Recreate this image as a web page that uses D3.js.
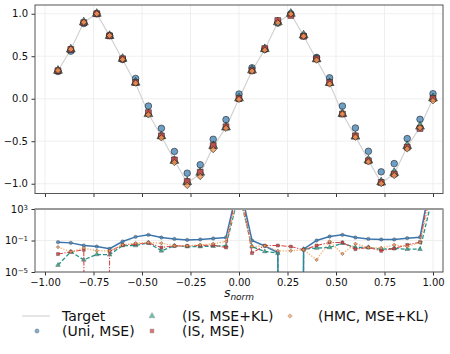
<!DOCTYPE html>
<html>
<head>
<meta charset="utf-8">
<script src="https://cdn.jsdelivr.net/npm/d3@7"></script>
<style>
  body { margin: 0; background: #fff; }
  svg { display: block; font-family: "DejaVu Sans", sans-serif; }
</style>
</head>
<body>
<div id="chart"></div>
<script>
// normalised positions of the samples
const sNorm = [-0.933, -0.867, -0.8, -0.733, -0.667, -0.6, -0.533, -0.467, -0.4, -0.333,
  -0.267, -0.2, -0.133, -0.067, 0, 0.067, 0.133, 0.2, 0.267, 0.333,
  0.4, 0.467, 0.533, 0.6, 0.667, 0.733, 0.8, 0.867, 0.933, 1.0];

// top panel: target and predictions
const target = [0.33, 0.58, 0.90, 1.00, 0.74, 0.46, 0.18, -0.175, -0.445, -0.725,
  -0.99, -0.885, -0.565, -0.335, 0.0, 0.33, 0.58, 0.90, 1.00, 0.74,
  0.46, 0.18, -0.175, -0.445, -0.725, -0.99, -0.885, -0.565, -0.335, 0.0];
const predUni = [0.32, 0.56, 0.885, 1.0, 0.744, 0.462, 0.239, -0.086, -0.348, -0.62,
  -0.876, -0.776, -0.477, -0.246, 0.055, 0.364, 0.58, 0.89, 1.0, 0.74,
  0.486, 0.246, -0.086, -0.344, -0.618, -0.86, -0.763, -0.469, -0.242, 0.059];
const predIsKl = [0.33, 0.58, 0.9, 1.0, 0.74, 0.47, 0.19, -0.18, -0.44, -0.73,
  -0.98, -0.87, -0.555, -0.337, 0.005, 0.335, 0.585, 0.9, 1.0, 0.745,
  0.465, 0.185, -0.178, -0.445, -0.725, -0.983, -0.872, -0.556, -0.327, 0.005];
const predIsMse = [0.33, 0.58, 0.895, 1.0, 0.74, 0.47, 0.19, -0.164, -0.437, -0.72,
  -0.975, -0.864, -0.551, -0.33, 0.002, 0.33, 0.59, 0.92, 0.98, 0.735,
  0.47, 0.19, -0.18, -0.437, -0.73, -0.985, -0.885, -0.57, -0.35, 0.002];
const predHmc = [0.333, 0.583, 0.90, 1.0, 0.744, 0.462, 0.184, -0.19, -0.46, -0.75,
  -1.02, -0.915, -0.598, -0.348, -0.008, 0.325, 0.572, 0.892, 0.998, 0.736,
  0.454, 0.173, -0.18, -0.453, -0.743, -0.998, -0.903, -0.59, -0.34, -0.023];

// bottom panel: relative errors (0 = exact match)
const errUni = [6.2e-2, 5e-2, 2.3e-2, 1.7e-2, 8.9e-3, 7.4e-2, 2.9e-1, 5.2e-1, 2.4e-1, 1.6e-1,
  1.2e-1, 1.35e-1, 1.8e-1, 2.4e-1, 3e6, 1e-1, 2e-2, 3e-3, 0, 7.9e-3,
  1e-1, 3.2e-1, 5.2e-1, 2.4e-1, 1.6e-1, 1.35e-1, 1.35e-1, 2e-1, 2.6e-1, 1e8];
const errIsKl = [7.6e-5, 3.7e-3, 3.5e-4, 1.7e-3, 1.55e-3, 2.3e-2, 2.3e-2, 5e-2, 4.9e-3, 2.1e-2,
  1.7e-2, 1.7e-2, 1.9e-2, 2.1e-2, 1e5, 1.7e-2, 4e-3, 2.5e-3, 0, 7.9e-3,
  1.1e-2, 1.3e-2, 4.6e-2, 1.3e-2, 1.3e-2, 7.9e-3, 9.8e-3, 7.9e-3, 7.9e-3, 6e4];
const errIsMse = [1.9e-3, 3.7e-3, 6.6e-3, 0, 4.1e-3, 2.8e-2, 3.5e-2, 5e-2, 1.3e-2, 2.1e-2,
  2.1e-2, 2.3e-2, 2.6e-2, 1.3e-2, 1e7, 2.5e-3, 2.3e-2, 2.3e-2, 1.7e-2, 6.6e-3,
  2.3e-2, 5.6e-2, 5.6e-2, 7.9e-3, 1.3e-2, 4.9e-3, 9.8e-3, 2.8e-2, 6.2e-2, 2.5e7];
const errHmc = [1.45e-2, 3.7e-3, 1.1e-2, 5e-3, 4.9e-3, 2.8e-2, 4.6e-2, 5.6e-2, 4.6e-2, 2.1e-2,
  2.1e-2, 2.8e-2, 3.8e-2, 7.4e-2, 1e5, 1.7e-2, 2.1e-2, 4.9e-3, 4.9e-3, 6.6e-3,
  3.5e-4, 7.4e-2, 2e-3, 3.8e-2, 1.3e-2, 1.1e-2, 2.8e-2, 1.7e-2, 5.6e-2, 5e5];

const xTicks = [-1, -0.75, -0.5, -0.25, 0, 0.25, 0.5, 0.75, 1];
const yTicks = [-1, -0.5, 0, 0.5, 1];
const errTicks = [1e-5, 1e-1, 1e3];
const errTickExp = ["\u22125", "\u22121", "3"];

const series = [
  { name: "(Uni, MSE)", pred: predUni, err: errUni, color: "#4a87b8", line: "#3b76af", symbol: "circle", dash: null, lw: 1.5 },
  { name: "(IS, MSE+KL)", pred: predIsKl, err: errIsKl, color: "#35a58a", line: "#22958a", symbol: "triangle", dash: "4,2", lw: 1.3 },
  { name: "(IS, MSE)", pred: predIsMse, err: errIsMse, color: "#d23b3b", line: "#d84848", symbol: "square", dash: "5,1.5,1.2,1.5", lw: 1.1 },
  { name: "(HMC, MSE+KL)", pred: predHmc, err: errHmc, color: "#f39550", line: "#f5a868", symbol: "diamond", dash: "1.3,1.5", lw: 1.2 }
];

const width = 450, height = 354;
const left = 35, right = 443;
const top1 = 5, bottom1 = 193.5;
const top2 = 209, bottom2 = 272;
const gridColor = "#ebebeb";
const frameColor = "#555";

const svg = d3.select("#chart").append("svg")
  .attr("width", width)
  .attr("height", height)
  .attr("viewBox", `0 0 ${width} ${height}`);
svg.append("rect").attr("width", width).attr("height", height).attr("fill", "#fff");

const x = d3.scaleLinear([-1.0515, 1.0515], [left, right]);
const y = d3.scaleLinear([-1.115, 1.103], [bottom1, top1]);
const yErr = d3.scaleLog([1e-5, 1e3], [bottom2, top2]);

function symbolPath(kind, size) {
  if (kind === "circle") return d3.symbol(d3.symbolCircle, size)();
  if (kind === "triangle") return d3.symbol(d3.symbolTriangle, size)();
  return d3.symbol(d3.symbolSquare, size)();
}
const rot = kind => kind === "diamond" ? " rotate(45)" : "";

// ---------- top panel ----------
const gTop = svg.append("g");

gTop.append("g")
  .selectAll("line")
  .data(xTicks)
  .join("line")
  .attr("x1", d => x(d)).attr("x2", d => x(d))
  .attr("y1", top1).attr("y2", bottom1)
  .attr("stroke", gridColor).attr("stroke-width", 0.8);
gTop.append("g")
  .selectAll("line")
  .data(yTicks)
  .join("line")
  .attr("x1", left).attr("x2", right)
  .attr("y1", d => y(d)).attr("y2", d => y(d))
  .attr("stroke", gridColor).attr("stroke-width", 0.8);

gTop.append("path")
  .datum(d3.range(sNorm.length))
  .attr("fill", "none")
  .attr("stroke", "#cfcfcf")
  .attr("stroke-width", 1.1)
  .attr("d", d3.line().x(i => x(sNorm[i])).y(i => y(target[i])));

series.forEach(s => {
  gTop.append("g")
    .selectAll("path")
    .data(d3.range(sNorm.length))
    .join("path")
    .attr("d", symbolPath(s.symbol, s.symbol === "diamond" ? 20 : 34))
    .attr("transform", i => `translate(${x(sNorm[i])},${y(s.pred[i])})${rot(s.symbol)}`)
    .attr("fill", s.color)
    .attr("fill-opacity", 0.8)
    .attr("stroke", "#222")
    .attr("stroke-width", 0.6);
});

gTop.append("g")
  .attr("transform", `translate(${left},0)`)
  .call(d3.axisLeft(y).tickValues(yTicks).tickFormat(d3.format(".1f")).tickSize(3.5).tickPadding(3.5))
  .call(g => g.select(".domain").remove())
  .call(g => g.selectAll(".tick line").attr("stroke", "#333"))
  .call(g => g.selectAll(".tick text").attr("fill", "#111"))
  .attr("font-family", "DejaVu Sans, sans-serif")
  .attr("font-size", 10);

gTop.append("g")
  .attr("transform", `translate(0,${bottom1})`)
  .call(d3.axisBottom(x).tickValues(xTicks).tickFormat("").tickSize(3.5))
  .call(g => g.select(".domain").remove())
  .call(g => g.selectAll(".tick line").attr("stroke", "#333"));

gTop.append("rect")
  .attr("x", left).attr("y", top1)
  .attr("width", right - left).attr("height", bottom1 - top1)
  .attr("fill", "none").attr("stroke", frameColor).attr("stroke-width", 1);

// ---------- bottom panel ----------
const gBot = svg.append("g");
svg.append("clipPath").attr("id", "clipErr")
  .append("rect")
  .attr("x", left).attr("y", top2)
  .attr("width", right - left).attr("height", bottom2 - top2);

gBot.append("g")
  .selectAll("line")
  .data(xTicks)
  .join("line")
  .attr("x1", d => x(d)).attr("x2", d => x(d))
  .attr("y1", top2).attr("y2", bottom2)
  .attr("stroke", gridColor).attr("stroke-width", 0.8);
gBot.append("g")
  .selectAll("line")
  .data(errTicks)
  .join("line")
  .attr("x1", left).attr("x2", right)
  .attr("y1", d => yErr(d)).attr("y2", d => yErr(d))
  .attr("stroke", gridColor).attr("stroke-width", 0.8);

// exact matches (0) sit far below the axis, as a log axis clips them
const floorErr = v => Math.max(v, 1e-300);
const plot = gBot.append("g").attr("clip-path", "url(#clipErr)");
series.forEach(s => {
  plot.append("path")
    .datum(d3.range(sNorm.length))
    .attr("fill", "none")
    .attr("stroke", s.line)
    .attr("stroke-width", s.lw)
    .attr("stroke-dasharray", s.dash)
    .attr("d", d3.line().x(i => x(sNorm[i])).y(i => yErr(floorErr(s.err[i]))));
  plot.append("g")
    .selectAll("path")
    .data(d3.range(sNorm.length))
    .join("path")
    .attr("d", symbolPath(s.symbol, s.symbol === "diamond" ? 6 : 9))
    .attr("transform", i => `translate(${x(sNorm[i])},${yErr(floorErr(s.err[i]))})${rot(s.symbol)}`)
    .attr("fill", s.color)
    .attr("fill-opacity", 0.85)
    .attr("stroke", "#444")
    .attr("stroke-width", 0.4);
});

gBot.append("g")
  .attr("transform", `translate(${left},0)`)
  .call(d3.axisLeft(yErr).tickValues(errTicks).tickFormat(() => "10").tickSize(3.5).tickPadding(3.5))
  .call(g => g.select(".domain").remove())
  .call(g => g.selectAll(".tick line").attr("stroke", "#333"))
  .call(g => g.selectAll(".tick text")
    .attr("fill", "#111")
    .each(function(d, i) {
      const t = d3.select(this);
      t.text("10");
      t.append("tspan")
        .attr("dy", "-0.45em")
        .attr("font-size", 7)
        .text(errTickExp[i]);
    }))
  .attr("font-family", "DejaVu Sans, sans-serif")
  .attr("font-size", 10);

gBot.append("g")
  .attr("transform", `translate(0,${bottom2})`)
  .call(d3.axisBottom(x).tickValues(xTicks).tickFormat(d3.format(".2f")).tickSize(3.5).tickPadding(3.5))
  .call(g => g.select(".domain").remove())
  .call(g => g.selectAll(".tick line").attr("stroke", "#333"))
  .call(g => g.selectAll(".tick text").attr("fill", "#111"))
  .attr("font-family", "DejaVu Sans, sans-serif")
  .attr("font-size", 10);

gBot.append("rect")
  .attr("x", left).attr("y", top2)
  .attr("width", right - left).attr("height", bottom2 - top2)
  .attr("fill", "none").attr("stroke", frameColor).attr("stroke-width", 1);
gBot.append("line")
  .attr("x1", left).attr("x2", right)
  .attr("y1", top2).attr("y2", top2)
  .attr("stroke", "#9a9a9a").attr("stroke-width", 2);

// x label: s_norm
const xl = svg.append("text")
  .attr("x", x(0))
  .attr("y", 297)
  .attr("text-anchor", "middle")
  .attr("font-style", "italic")
  .attr("font-size", 12.5)
  .attr("fill", "#111");
xl.append("tspan").text("s");
xl.append("tspan").attr("dy", 2.5).attr("font-size", 9).text("norm");

// ---------- legend ----------
const legendItems = [
  { label: "Target", kind: "line", tx: 62, row: 0 },
  { label: series[0].name, kind: "circle", color: series[0].color, mx: 37, tx: 62, row: 1 },
  { label: series[1].name, kind: "triangle", color: series[1].color, mx: 152, tx: 182, row: 0 },
  { label: series[2].name, kind: "square", color: series[2].color, mx: 152, tx: 182, row: 1 },
  { label: series[3].name, kind: "diamond", color: series[3].color, mx: 290, tx: 318, row: 0 }
];
const legendRowY = [316, 331];
const lg = svg.append("g").attr("font-size", 14).attr("fill", "#111");
legendItems.forEach(it => {
  const cy = legendRowY[it.row];
  if (it.kind === "line") {
    lg.append("line")
      .attr("x1", 22).attr("x2", 50)
      .attr("y1", cy).attr("y2", cy)
      .attr("stroke", "#cfcfcf").attr("stroke-width", 1.1);
  } else {
    lg.append("path")
      .attr("d", symbolPath(it.kind, it.kind === "diamond" ? 10 : 15))
      .attr("transform", `translate(${it.mx},${cy})${rot(it.kind)}`)
      .attr("fill", it.color)
      .attr("fill-opacity", 0.7)
      .attr("stroke", "#888")
      .attr("stroke-width", 0.4);
  }
  lg.append("text")
    .attr("x", it.tx)
    .attr("y", cy)
    .attr("dy", "0.36em")
    .text(it.label);
});
</script>
</body>
</html>
